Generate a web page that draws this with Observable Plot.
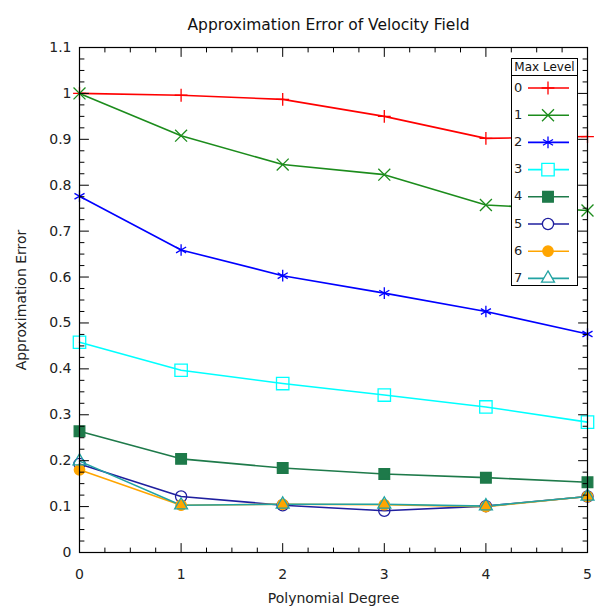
<!DOCTYPE html>
<html><head><meta charset="utf-8">
<script src="https://cdn.jsdelivr.net/npm/d3@7"></script>
<script src="https://cdn.jsdelivr.net/npm/@observablehq/plot@0.6"></script>
<style>
body{margin:0;background:#fff;font-family:"DejaVu Sans",Verdana,sans-serif}
#wrap{position:relative;width:599px;height:608px}
#legend{position:absolute;left:0;top:0}
</style>
</head><body><div id="wrap"></div>
<script>
const title = "Approximation Error of Velocity Field";
const xLabel = "Polynomial Degree";
const yLabel = "Approximation Error";
const legendTitle = "Max Level";
const degrees = [0, 1, 2, 3, 4, 5];
const levels = [0, 1, 2, 3, 4, 5, 6, 7];
const level0 = [1.000, 0.996, 0.987, 0.950, 0.902, 0.906];
const level1 = [1.000, 0.908, 0.845, 0.823, 0.757, 0.745];
const level2 = [0.776, 0.659, 0.603, 0.565, 0.525, 0.476];
const level3 = [0.458, 0.397, 0.368, 0.343, 0.317, 0.284];
const level4 = [0.264, 0.204, 0.184, 0.171, 0.163, 0.153];
const level5 = [0.193, 0.122, 0.103, 0.091, 0.101, 0.122];
const level6 = [0.180, 0.103, 0.105, 0.104, 0.100, 0.122];
const level7 = [0.199, 0.103, 0.105, 0.105, 0.101, 0.122];
const xTicks = [0, 1, 2, 3, 4, 5];
const xMinorTicks = d3.range(0, 5.001, 0.25).filter(v => Math.abs(v - Math.round(v)) > 1e-6);
const yTicks = [0, 0.1, 0.2, 0.3, 0.4, 0.5, 0.6, 0.7, 0.8, 0.9, 1, 1.1];
const yMinorTicks = d3.range(0, 1.1001, 0.025).filter(v => Math.abs(v * 10 - Math.round(v * 10)) > 1e-6);

const seriesValues = [level0, level1, level2, level3, level4, level5, level6, level7];
const colors = ["#ff0000", "#1c8c1c", "#0000ff", "#00ffff", "#1e7a4a", "#1f1f9f", "#ffa500", "#22a3a3"];
const symbols = ["plus", "times", "asterisk", "square", "square", "circle", "circle", "triangle"];
const d3symbols = [d3.symbolPlus, d3.symbolTimes, d3.symbolAsterisk, d3.symbolSquare, d3.symbolSquare, d3.symbolCircle, d3.symbolCircle, d3.symbolTriangle];
const filled = [false, false, false, false, true, false, true, false];
const radii = [4.2, 5.5, 5.5, 7, 6, 5.6, 5.2, 4.8];

const rows = levels.flatMap((lv, i) => degrees.map((dg, j) => ({level: lv, degree: dg, error: seriesValues[i][j]})));

const tickLine = {draw(ctx, l) { ctx.moveTo(0, 0); ctx.lineTo(0, -l); }};
const tickMarks = [];
for (const [anchor, rot] of [["left", 90], ["right", -90]]) {
  tickMarks.push(Plot.vector(yTicks, {y: d => d, frameAnchor: anchor, rotate: rot, length: 9, anchor: "start", shape: tickLine, stroke: "black", strokeWidth: 1}));
  tickMarks.push(Plot.vector(yMinorTicks, {y: d => d, frameAnchor: anchor, rotate: rot, length: 4.5, anchor: "start", shape: tickLine, stroke: "black", strokeWidth: 1}));
}
for (const [anchor, rot] of [["bottom", 0], ["top", 180]]) {
  tickMarks.push(Plot.vector(xTicks, {x: d => d, frameAnchor: anchor, rotate: rot, length: 9, anchor: "start", shape: tickLine, stroke: "black", strokeWidth: 1}));
  tickMarks.push(Plot.vector(xMinorTicks, {x: d => d, frameAnchor: anchor, rotate: rot, length: 4.5, anchor: "start", shape: tickLine, stroke: "black", strokeWidth: 1}));
}

const seriesMarks = [];
levels.forEach((lv, i) => {
  const d = rows.filter(r => r.level === lv);
  seriesMarks.push(Plot.line(d, {x: "degree", y: "error", stroke: colors[i], strokeWidth: 1.6}));
});
levels.forEach((lv, i) => {
  const d = rows.filter(r => r.level === lv);
  seriesMarks.push(Plot.dot(d, {x: "degree", y: "error", symbol: () => symbols[i], r: radii[i],
    stroke: colors[i], strokeWidth: 1.3, fill: filled[i] ? colors[i] : "none"}));
});

const chart = Plot.plot({
  width: 599, height: 608,
  marginLeft: 79, marginRight: 12, marginTop: 47, marginBottom: 56,
  style: {fontFamily: "DejaVu Sans, Verdana, sans-serif", fontSize: "13px", background: "white", color: "#222"},
  x: {domain: [0, 5]},
  y: {domain: [0, 1.1]},
  symbol: {type: "identity"},
  marks: [
    Plot.axisX({ticks: xTicks, tickSize: 0, tickPadding: 17, tickFormat: d => String(d), label: xLabel, labelAnchor: "center", labelArrow: "none", labelOffset: 50, fontSize: 14}),
    Plot.axisY({ticks: yTicks, tickSize: 0, tickPadding: 8, tickFormat: d => String(+d.toFixed(1)), label: yLabel, labelAnchor: "center", labelArrow: "none", labelOffset: 63, fontSize: 14}),
    ...seriesMarks,
    ...tickMarks,
    Plot.frame({stroke: "black", strokeWidth: 1.2}),
    Plot.text([title], {frameAnchor: "top", dx: -5, dy: -29, fontSize: 15.5, fill: "#111"})
  ]
});
document.getElementById("wrap").appendChild(chart);

// Legend (inside plot area, top right)
const lg = d3.select("#wrap").append("svg").attr("id", "legend").attr("width", 599).attr("height", 608)
  .style("font-family", "DejaVu Sans, Verdana, sans-serif").style("pointer-events", "none");
const lx = 511, ly = 58, lw = 66, lh = 227, hh = 17;
lg.append("rect").attr("x", lx + 0.5).attr("y", ly + 0.5).attr("width", lw).attr("height", lh).attr("fill", "white").attr("stroke", "black");
lg.append("line").attr("x1", lx).attr("x2", lx + lw).attr("y1", ly + hh + 0.5).attr("y2", ly + hh + 0.5).attr("stroke", "black");
lg.append("text").attr("x", lx + lw / 2 + 0.5).attr("y", ly + hh / 2 + 1).attr("text-anchor", "middle").attr("dominant-baseline", "middle")
  .attr("font-size", 12).attr("fill", "#111").text(legendTitle);
levels.forEach((lv, i) => {
  const cy = 88 + i * 27.2;
  lg.append("text").attr("x", lx + 3).attr("y", cy).attr("dominant-baseline", "middle").attr("font-size", 13).attr("fill", "#222").text(String(lv));
  lg.append("line").attr("x1", 528).attr("x2", 569).attr("y1", cy).attr("y2", cy).attr("stroke", colors[i]).attr("stroke-width", 1.6);
  lg.append("path").attr("transform", `translate(548,${cy})`)
    .attr("d", d3.symbol(d3symbols[i], Math.PI * radii[i] * radii[i])())
    .attr("fill", filled[i] ? colors[i] : (i === 5 || i === 7 || i === 3 ? "white" : "none"))
    .attr("stroke", colors[i]).attr("stroke-width", 1.3);
});
</script>
</body></html>
